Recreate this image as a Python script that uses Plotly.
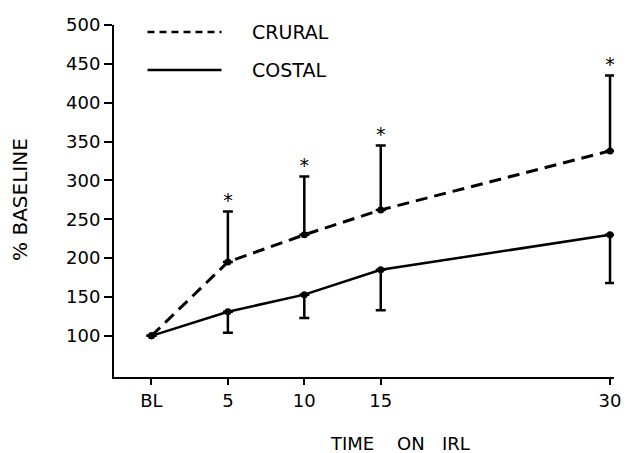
import plotly.graph_objects as go

# ---- data ----
x_vals = [0, 5, 10, 15, 30]
x_ticktext = ["BL", "5", "10", "15", "30"]
crural_mean = [100, 195, 230, 262, 338]
crural_sd = [None, 65, 75, 83, 97]          # upward error bars
costal_mean = [100, 131, 153, 185, 230]
costal_sd = [None, 27, 30, 52, 62]          # downward error bars
star_x = [5, 10, 15, 30]
y_ticks = [100, 150, 200, 250, 300, 350, 400, 450, 500]

FONT = "DejaVu Sans, Liberation Sans, Arial, sans-serif"

fig = go.Figure()

fig.add_trace(go.Scatter(
    x=x_vals, y=crural_mean, mode="lines+markers",
    line=dict(color="black", width=3, dash="12px,7px"),
    marker=dict(color="black", size=7),
    error_y=dict(type="data", array=crural_sd,
                 arrayminus=[None if v is None else 0 for v in crural_sd],
                 symmetric=False, color="black", thickness=2.5, width=5),
    showlegend=False, hoverinfo="skip"))

fig.add_trace(go.Scatter(
    x=x_vals, y=costal_mean, mode="lines+markers",
    line=dict(color="black", width=2.5),
    marker=dict(color="black", size=7),
    error_y=dict(type="data", array=[None if v is None else 0 for v in costal_sd],
                 arrayminus=costal_sd, symmetric=False,
                 color="black", thickness=2.5, width=5),
    showlegend=False, hoverinfo="skip"))

# significance stars above crural error bars
star_y = [m + s for m, s, xv in zip(crural_mean, crural_sd, x_vals) if xv in star_x]
fig.add_trace(go.Scatter(
    x=star_x, y=star_y, mode="text", text=["*"] * len(star_x),
    textposition="top center",
    textfont=dict(family=FONT, size=19, color="black"),
    showlegend=False, hoverinfo="skip"))

fig.update_layout(
    width=633, height=453,
    margin=dict(l=114, r=12, t=25, b=76),
    paper_bgcolor="white", plot_bgcolor="white",
    font=dict(family=FONT, color="black"),
    hovermode=False,
    xaxis=dict(range=[-2.45, 30.26], tickvals=x_vals, ticktext=x_ticktext,
               showline=True, linecolor="black", linewidth=2,
               ticks="outside", ticklen=6, tickwidth=2, tickcolor="black",
               showgrid=False, zeroline=False,
               tickfont=dict(family=FONT, size=18, color="black")),
    yaxis=dict(range=[47, 500], tickvals=y_ticks,
               showline=True, linecolor="black", linewidth=2,
               ticks="outside", ticklen=8, tickwidth=2, tickcolor="black",
               showgrid=False, zeroline=False,
               tickfont=dict(family=FONT, size=18, color="black")),
    shapes=[
        dict(type="line", xref="paper", yref="paper", x0=0.067, x1=0.215,
             y0=0.980, y1=0.980, line=dict(color="black", width=2.5, dash="7px,5px")),
        dict(type="line", xref="paper", yref="paper", x0=0.067, x1=0.215,
             y0=0.872, y1=0.872, line=dict(color="black", width=2.5)),
    ],
    annotations=[
        dict(text="CRURAL", xref="paper", yref="paper", x=0.272, y=0.980,
             xanchor="left", yanchor="middle", showarrow=False,
             font=dict(family=FONT, size=19, color="black")),
        dict(text="COSTAL", xref="paper", yref="paper", x=0.272, y=0.872,
             xanchor="left", yanchor="middle", showarrow=False,
             font=dict(family=FONT, size=19, color="black")),
        dict(text="TIME\u00a0\u00a0\u00a0\u00a0ON\u00a0\u00a0\u00a0IRL", xref="paper", yref="paper",
             x=0.571, y=0, yshift=-79, xanchor="center", yanchor="bottom",
             showarrow=False, font=dict(family=FONT, size=18, color="black")),
        dict(text="% BASELINE", xref="paper", yref="paper", x=0, xshift=-94,
             y=0.503, xanchor="center", yanchor="middle", textangle=-90,
             showarrow=False, font=dict(family=FONT, size=20, color="black")),
    ],
)

fig.write_html("out.html", config={"displayModeBar": False},
               post_script="document.body.style.margin='0';document.body.style.padding='0';")
